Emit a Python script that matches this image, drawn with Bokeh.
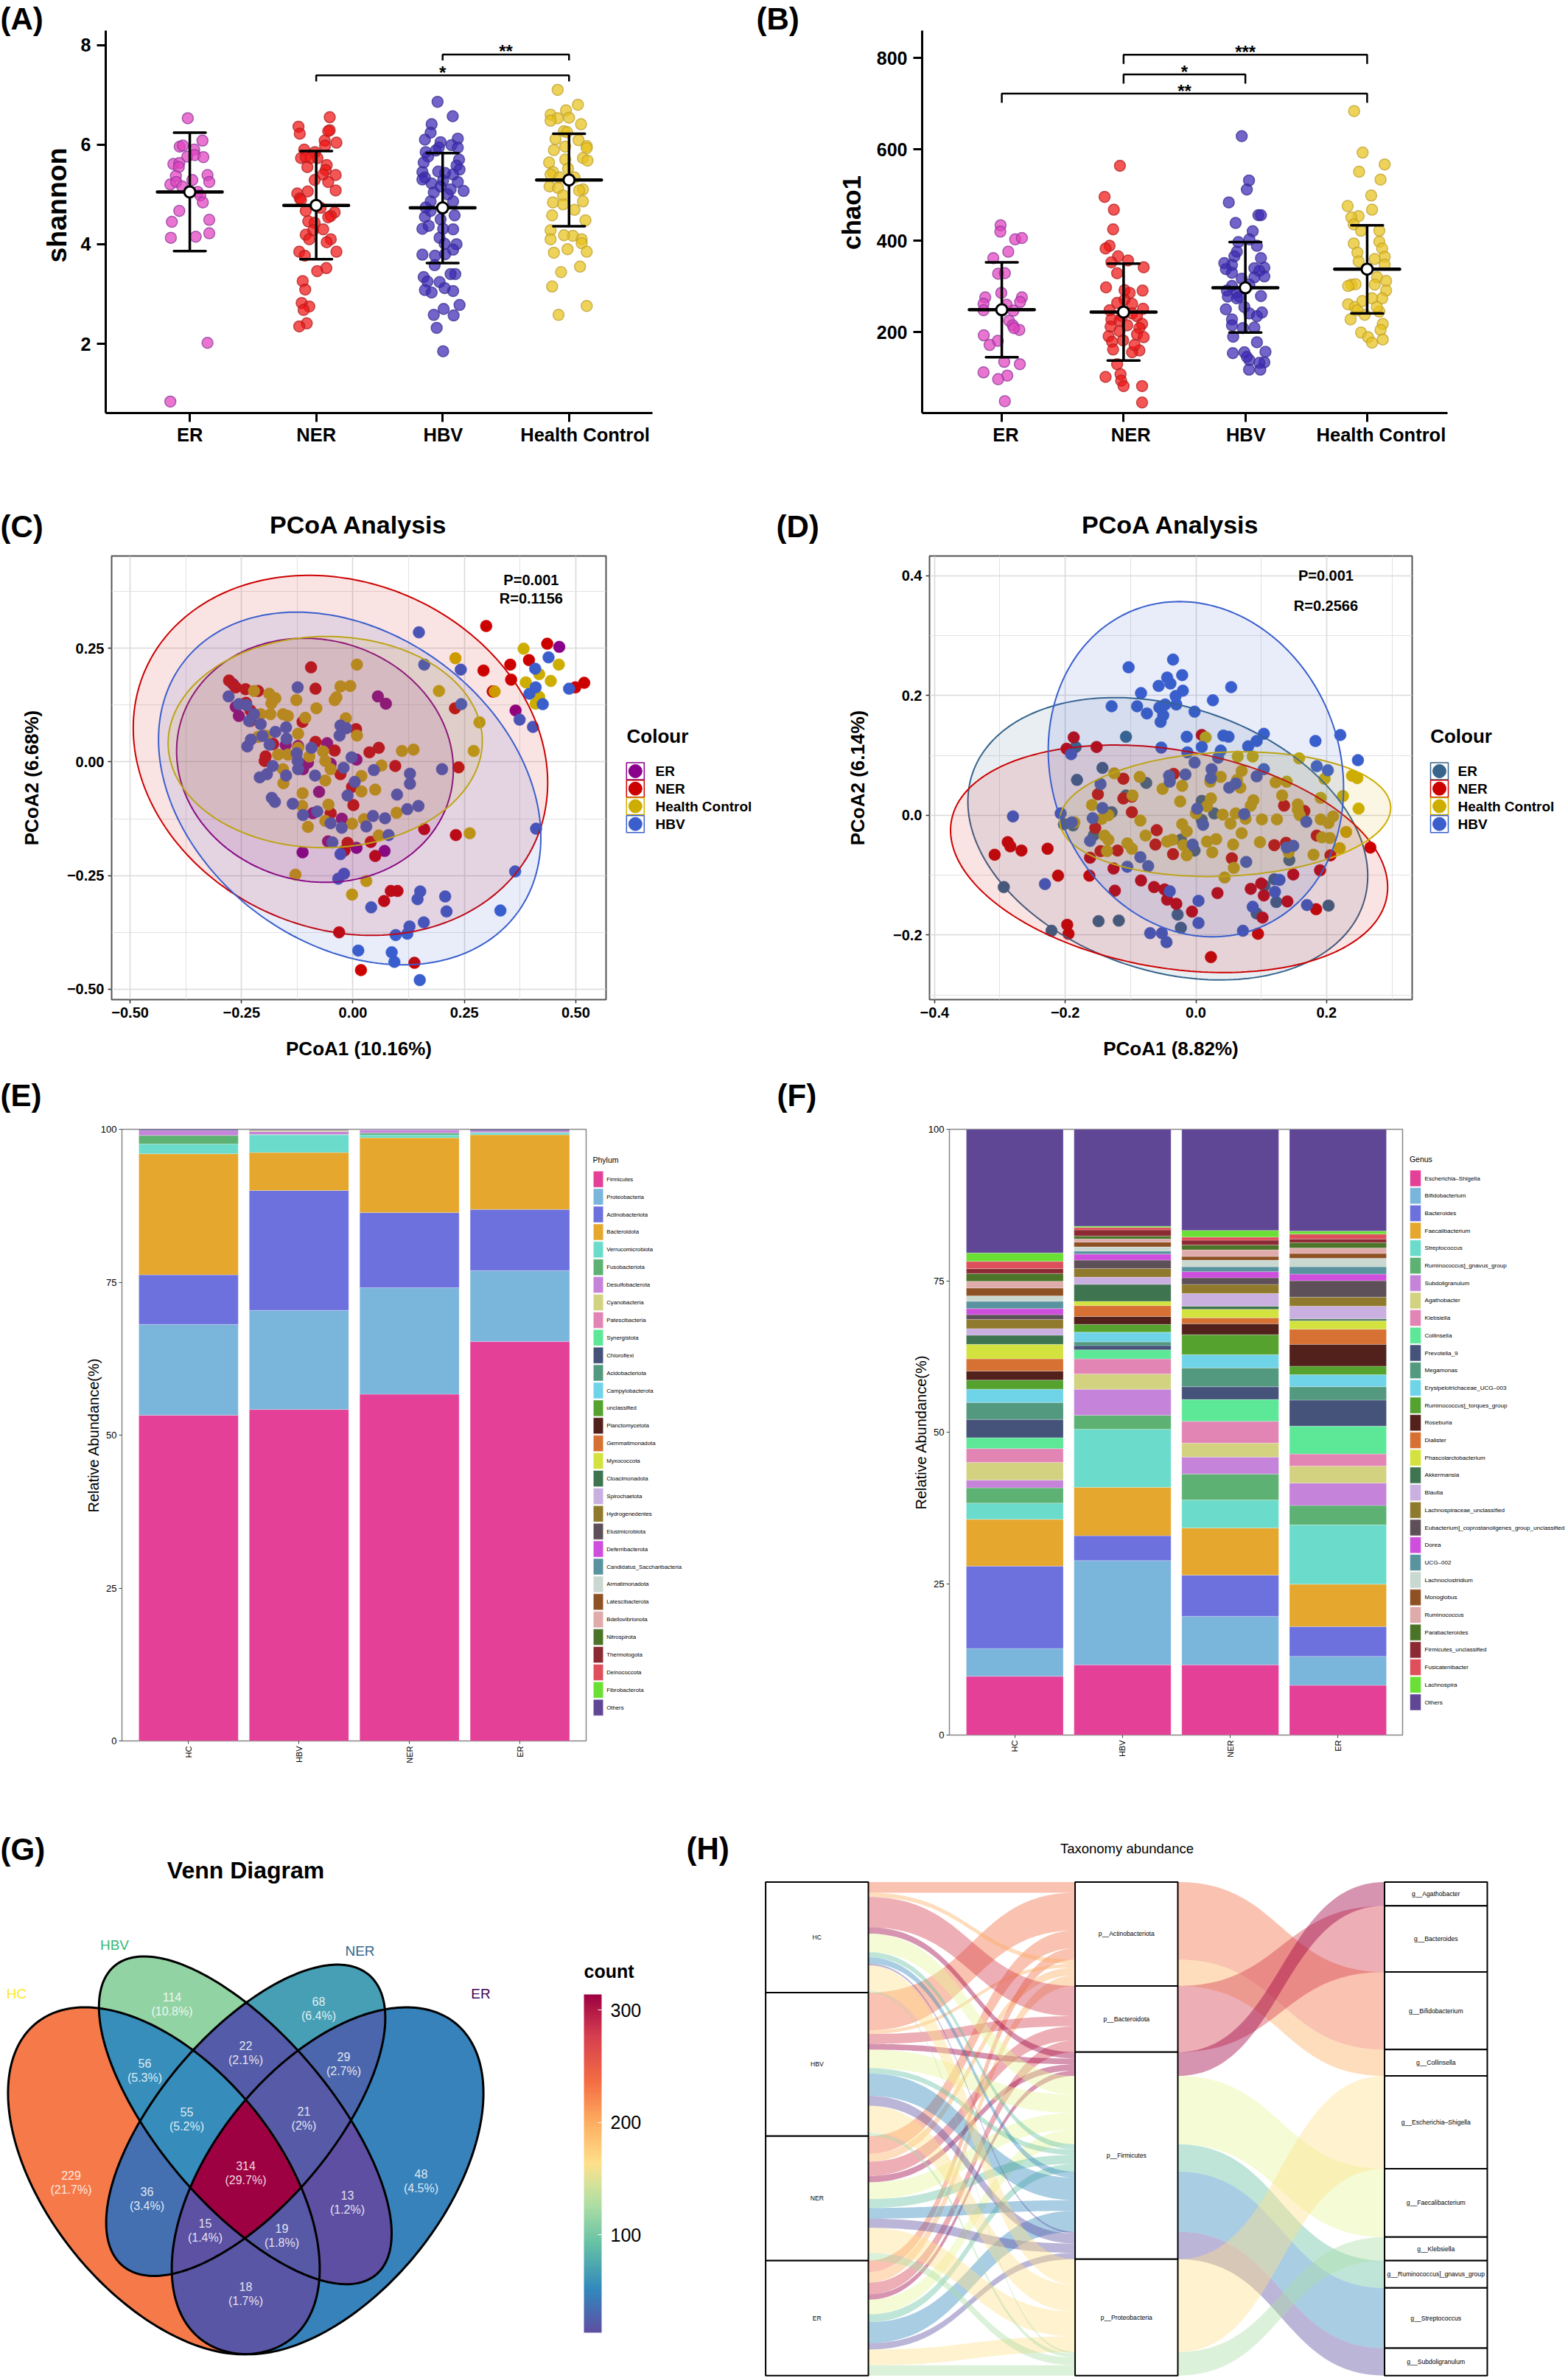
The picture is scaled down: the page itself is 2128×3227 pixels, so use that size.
import numpy as np
from bokeh.plotting import figure
from bokeh.layouts import row, column
from bokeh.models import Label, FixedTicker, LinearColorMapper, ColorBar, Range1d, LinearAxis
from bokeh.core.properties import value
from bokeh.embed import file_html
from bokeh.resources import INLINE

SANS = "Liberation Sans"

# ---------- (A) shannon : (jitter, value) ----------
groups = ["ER", "NER", "HBV", "Health Control"]
shannon_ER = [(-.016,6.53),(.1,6.08),(-.08,5.96),(-.055,5.98),(.035,5.9),(-.02,5.76),(.04,5.79),(.107,5.75),(-.13,5.61),(-.083,5.63),(-.087,5.55),(.14,5.39),(-.11,5.37),(.02,5.29),(.154,5.25),(-.154,5.2),(-.107,5.25),(-.06,5.16),(.063,5.05),(.083,4.98),(.103,4.84),(-.083,4.67),(-.142,4.45),(.154,4.49),(.154,4.22),(.047,4.15),(-.15,4.13),(.14,2.02),(-.154,.84)]
shannon_NER = [(.107,6.55),(-.14,6.36),(-.13,6.22),(.107,6.29),(.095,6.27),(.067,6.08),(.16,6.04),(.07,5.98),(-.095,5.9),(-.01,5.85),(-.12,5.73),(-.083,5.75),(.01,5.73),(-.043,5.73),(-.07,5.55),(.083,5.59),(.075,5.49),(.154,5.39),(.055,5.4),(-.012,5.29),(.095,5.25),(.154,5.08),(-.067,5.06),(-.15,5.02),(-.13,4.92),(-.12,4.89),(-.083,4.67),(.035,4.73),(.146,4.64),(.115,4.57),(.095,4.54),(-.063,4.46),(-.012,4.43),(-.024,4.28),(.055,4.3),(-.083,4.19),(-.055,4.1),(.115,4.1),(.083,4.04),(-.134,3.85),(.16,3.85),(-.09,3.77),(.08,3.52),(.008,3.46),(-.107,3.26),(-.087,3.09),(-.115,2.82),(-.055,2.75),(-.1,2.68),(-.075,2.41),(-.134,2.35)]
shannon_HBV = [(-.04,6.86),(.08,6.57),(-.087,6.41),(-.095,6.24),(-.14,6.1),(-.016,6.05),(.12,6.12),(.07,5.99),(.12,5.94),(-.03,5.94),(-.134,5.85),(-.055,5.88),(-.115,5.76),(.13,5.7),(-.15,5.64),(.11,5.58),(.134,5.5),(-.16,5.45),(-.035,5.46),(.02,5.43),(.083,5.4),(-.14,5.34),(-.16,5.3),(.004,5.28),(.12,5.25),(-.087,5.22),(-.016,5.16),(.063,5.1),(.166,5.07),(-.07,5.04),(.04,5.0),(.083,4.86),(-.095,4.86),(-.134,4.74),(.095,4.58),(-.14,4.55),(-.095,4.67),(-.016,4.5),(-.11,4.37),(-.16,4.31),(.083,4.3),(.004,4.31),(-.024,4.13),(.11,4.0),(.016,4.01),(.083,3.89),(-.16,3.79),(-.06,3.77),(.02,3.8),(-.063,3.58),(.1,3.4),(.063,3.4),(-.15,3.34),(-.12,3.25),(-.024,3.24),(.016,3.12),(-.14,3.08),(.083,3.06),(-.087,3.03),(.134,2.78),(.008,2.7),(-.07,2.58),(.087,2.57),(-.047,2.32),(.004,1.85)]
shannon_HC = [(-.09,7.1),(.07,6.8),(-.024,6.69),(-.146,6.6),(0,6.54),(-.09,6.53),(-.146,6.48),(.095,6.41),(-.04,6.27),(-.016,6.25),(.075,6.09),(-.107,6.11),(.14,5.97),(-.03,5.96),(.14,5.93),(-.12,5.89),(.11,5.73),(.146,5.68),(-.03,5.7),(-.158,5.64),(-.008,5.52),(-.127,5.45),(-.146,5.4),(-.075,5.34),(.043,5.34),(-.154,5.16),(-.087,5.13),(.11,5.1),(.08,5.08),(-.047,4.98),(.11,4.86),(-.127,4.84),(-.047,4.8),(.043,4.69),(-.134,4.58),(.13,4.48),(-.146,4.28),(.03,4.17),(-.04,4.18),(.1,4.1),(-.146,4.1),(.1,4.02),(.14,3.85),(-.12,3.83),(-.012,3.9),(.087,3.55),(-.063,3.44),(-.134,3.15),(.14,2.76),(-.083,2.58)]
shannon_summary = [(5.05,6.24,3.86),(4.78,5.87,3.7),(4.73,5.83,3.62),(5.29,6.22,4.36)]
shannon_brackets = [(3,4,7.81,.12,"**",3.5),(2,4,7.39,.12,"*",3.0)]

# ---------- (B) chao1 : (jitter, value) ----------
chao_ER = [(-.01,434),(-.012,420),(.11,403),(.165,406),(.053,376),(-.07,362),(-.03,328),(.025,329),(-.136,276),(-.004,286),(.165,276),(.15,266),(-.15,262),(.04,260),(-.15,248),(.095,247),(.06,225),(.09,215),(.144,205),(.1,209),(-.148,193),(-.033,181),(-.1,172),(.02,135),(.148,130),(-.15,112),(.045,105),(-.03,97),(.025,49)]
chao_NER = [(-.03,564),(-.156,496),(-.08,468),(-.086,425),(-.115,389),(-.148,383),(-.045,366),(.037,357),(-.1,353),(.165,342),(-.053,329),(-.144,298),(.156,291),(.008,292),(.05,286),(.008,271),(-.053,264),(.07,262),(-.115,248),(.16,251),(.07,241),(-.012,235),(.11,235),(-.1,228),(-.033,225),(.152,218),(-.107,212),(.13,209),(-.033,202),(.11,195),(-.123,191),(.165,189),(-.004,182),(-.095,179),(-.086,162),(.13,160),(.07,156),(-.053,130),(-.148,102),(-.025,108),(-.02,94),(0,82),(.152,82),(.152,46),(.09,172),(.03,215)]
chao_HBV = [(-.03,629),(.03,532),(.012,512),(-.136,484),(.107,456),(.128,456),(-.08,439),(.06,421),(.033,403),(-.058,397),(.095,389),(-.07,376),(-.09,366),(.128,362),(-.173,351),(-.11,347),(.074,340),(.156,341),(-.16,338),(.115,334),(-.11,330),(.156,322),(-.03,317),(.074,320),(-.11,301),(.033,304),(-.152,291),(-.07,287),(.128,279),(-.144,278),(-.05,278),(-.008,255),(-.16,250),(.136,243),(.033,241),(.095,235),(-.11,228),(-.11,215),(.074,210),(-.02,209),(-.1,190),(.095,178),(-.103,154),(-.008,156),(.165,157),(.033,139),(.156,134),(.115,133),(.03,118),(.123,118),(.012,146),(-.07,274)]
chao_HC = [(-.107,684),(-.037,593),(.144,567),(-.066,551),(.11,534),(.033,499),(-.16,476),(.04,468),(-.07,454),(-.13,451),(-.11,436),(-.05,422),(.1,422),(.1,398),(-.11,394),(.123,383),(-.08,374),(.144,365),(-.07,355),(.144,348),(.062,360),(.082,320),(.156,312),(.062,304),(-.13,304),(-.095,305),(.156,291),(-.156,301),(.123,274),(.04,274),(-.156,261),(-.1,255),(.1,245),(-.02,238),(-.136,228),(.128,218),(.11,205),(-.05,199),(.008,189),(.04,177),(.128,184),(-.08,248),(-.04,268),(.08,255)]
chao_summary = [(249,353,145),(244,350,138),(297,397,199),(338,434,241)]
chao_brackets = [(2,4,807,20,"***",3.0),(2,3,764,20,"*",2.5),(1,4,722,20,"**",2.5)]

# ---------- (C) PCoA ----------
C_ER = [(.463,.253),(.365,.113),(.314,.155),(.056,.144),(.074,.128),(.008,.005),(-.058,.041),(-.076,-.066),(-.09,-.113),(-.025,-.125),(-.113,-.199),(-.056,-.175),(.008,-.189),(.071,-.196),(-.269,.171),(-.263,.121),(-.256,.101),(-.151,.037),(-.179,.039),(-.123,.035),(-.101,-.002),(-.112,-.016),(-.05,-.004)]
C_NER = [(.299,.299),(.436,.26),(.395,.224),(.353,.214),(.293,.201),(.355,.181),(.519,.174),(.499,.164),(.314,.155),(.229,.118),(.237,-.012),(.16,-.148),(.231,-.161),(.095,-.009),(.058,.031),(.037,.021),(.007,.072),(-.041,.025),(-.084,.044),(-.113,.088),(-.084,.161),(-.094,.208),(-.278,.179),(-.263,.164),(-.241,.16),(-.213,.156),(-.23,.113),(-.196,.012),(-.198,.002),(-.028,-.027),(-.002,-.055),(.001,-.095),(-.05,-.113),(-.012,-.178),(.04,-.176),(.05,-.207),(-.019,-.195),(.07,-.306),(.085,-.284),(.1,-.284),(-.031,-.375),(.138,-.442),(.018,-.458),(-.24,.13),(-.18,.04),(-.23,.09)]
C_HC = [(.009,.214),(-.028,.166),(-.006,.167),(.23,.228),(.193,.156),(.318,.155),(.383,.249),(.462,.214),(.418,.193),(.388,.175),(.444,.178),(.418,.143),(.41,.128),(.284,.087),(.271,.024),(.262,-.157),(.136,.027),(.11,.024),(.009,.058),(-.016,.096),(-.082,.118),(-.107,.097),(-.127,.136),(-.037,.142),(-.041,.136),(-.174,.14),(-.222,.156),(-.188,.15),(-.183,.129),(-.185,.105),(-.157,.105),(-.146,.101),(-.123,.062),(-.168,.016),(-.146,.016),(-.123,.031),(-.098,.012),(-.067,.023),(-.062,.002),(-.05,-.016),(-.157,-.016),(-.156,-.047),(-.062,-.041),(.019,-.031),(.064,-.008),(.05,-.061),(.019,-.065),(-.113,-.069),(-.114,-.097),(-.055,-.094),(.098,-.112),(.025,-.126),(-.002,-.136),(-.062,-.13),(-.101,-.143),(.058,-.162),(-.129,-.248),(.03,-.262),(-.002,-.292),(-.207,.105),(-.196,.058),(-.213,.055)]
C_HBV = [(.148,.285),(.16,.214),(.242,.203),(.243,.127),(.439,.23),(.409,.205),(.41,.164),(.396,.15),(.426,.127),(.485,.161),(.374,.093),(.404,.077),(.411,-.147),(.364,-.241),(.331,-.327),(.207,-.296),(.21,-.329),(.151,-.285),(.145,-.302),(.159,-.353),(.127,-.362),(.122,-.378),(.096,-.381),(.012,-.415),(.087,-.419),(.093,-.44),(.15,-.48),(.041,-.32),(-.02,-.246),(-.033,-.257),(-.028,-.203),(-.046,-.177),(-.025,-.145),(-.05,-.135),(.03,-.142),(.045,-.119),(.072,-.124),(.08,-.161),(.147,-.097),(.122,-.104),(.099,-.072),(-.012,-.074),(-.08,-.109),(-.112,-.117),(-.135,-.092),(-.175,-.088),(-.182,-.079),(.2,-.016),(.128,-.026),(.128,-.048),(.047,-.018),(.004,-.044),(-.003,.01),(-.021,-.013),(-.085,-.03),(-.15,-.03),(-.123,-.016),(-.124,.002),(-.126,.019),(-.093,.031),(-.18,-.009),(-.193,-.027),(-.209,-.034),(-.237,.034),(-.229,.049),(-.203,.057),(-.187,.038),(-.174,.066),(-.149,.051),(-.15,.076),(-.207,.083),(-.233,.09),(-.222,.105),(-.239,.125),(-.256,.127),(-.279,.144),(-.124,.164),(-.03,.058),(-.028,.08),(-.015,.074)]
C_ellipses = {"ER":(-.0852,.0035,.3105,.2685,-.075),"NER":(-.028,.0144,.465,.396,-.152),"Health Control":(-.0622,.0436,.3525,.2323,.01),"HBV":(-.0073,-.0585,.429,.388,-.278)}

# ---------- (D) PCoA ----------
D_ER = [(-.107,.131),(-.184,.114),(-.143,.079),(-.182,.059),(-.076,.054),(-.107,.033),(.009,.024),(-.129,.005),(.028,.003),(-.202,-.015),(-.188,-.017),(-.156,-.033),(.009,-.008),(-.023,-.041),(-.002,-.059),(.143,-.075),(.12,-.107),(.105,-.118),(.123,-.145),(.093,-.164),(.203,-.151),(-.028,-.166),(-.023,-.188),(-.149,-.177),(-.118,-.176),(-.221,-.193),(-.294,-.12)]
D_NER = [(-.187,.13),(-.198,.111),(-.152,.114),(.009,.134),(-.111,.061),(-.15,.035),(-.098,.031),(-.111,.028),(-.034,.069),(.135,.016),(-.098,.005),(.166,.007),(-.06,-.025),(-.154,-.021),(-.062,-.049),(.185,-.034),(.138,-.046),(.12,-.05),(.267,-.054),(.206,-.067),(-.308,-.066),(-.288,-.045),(-.284,-.052),(-.267,-.059),(-.227,-.056),(-.146,-.06),(-.12,-.059),(-.035,-.065),(-.162,-.071),(.055,-.072),(-.126,-.089),(-.211,-.101),(-.163,-.101),(-.084,-.109),(.149,-.099),(.19,-.092),(-.064,-.12),(-.048,-.124),(-.124,-.126),(.084,-.123),(.1,-.114),(.033,-.13),(.104,-.134),(.14,-.144),(-.044,-.141),(-.03,-.148),(-.006,-.161),(.184,-.157),(.102,-.171),(-.197,-.183),(-.195,-.198),(.095,-.198),(.023,-.237)]
D_HC = [(.015,.13),(.064,.098),(.087,.098),(.158,.095),(-.125,.07),(-.086,.064),(-.051,.044),(-.021,.049),(.022,.056),(.038,.064),(.07,.074),(.063,.059),(.068,.046),(.122,.055),(.139,.056),(.197,.061),(.239,.066),(.247,.062),(.225,.032),(.191,.029),(.132,.033),(.249,.011),(-.097,.033),(-.024,.023),(.023,.028),(.017,.015),(.088,.025),(.084,.016),(.156,.018),(.156,.009),(-.159,.017),(-.134,0),(-.144,-.006),(-.085,-.009),(-.021,-.015),(-.014,-.027),(0,.003),(.041,.001),(.061,.003),(.053,-.014),(.076,-.006),(.101,-.007),(.124,-.007),(.159,0),(.191,-.007),(.21,-.002),(.203,-.013),(-.186,-.012),(-.14,-.034),(-.134,-.041),(-.077,-.034),(-.044,-.044),(-.036,-.041),(.031,-.04),(.017,-.044),(.07,-.03),(.098,-.045),(.193,-.037),(.205,-.038),(.23,-.028),(-.105,-.047),(-.098,-.056),(-.136,-.06),(-.019,-.05),(-.014,-.067),(.025,-.062),(.057,-.049),(.18,-.066),(.22,-.055),(.142,-.062),(.058,-.088),(.044,-.104)]
D_HBV = [(-.035,.26),(-.103,.247),(-.021,.234),(-.044,.23),(-.057,.216),(-.039,.22),(.054,.214),(-.084,.204),(-.02,.208),(-.031,.199),(.026,.192),(-.129,.182),(-.09,.182),(-.056,.18),(-.047,.185),(-.03,.185),(-.075,.17),(-.002,.173),(-.05,.167),(-.054,.156),(-.014,.131),(.042,.133),(.05,.131),(.104,.136),(.093,.124),(.08,.115),(.183,.124),(.221,.134),(.248,.092),(-.053,.113),(.009,.114),(-.013,.105),(.038,.108),(.034,.096),(-.002,.088),(.024,.077),(.104,.077),(.185,.082),(.202,.075),(-.041,.066),(-.016,.068),(-.04,.056),(.023,.062),(.093,.065),(.061,.053),(.051,.046),(-.146,.052),(-.191,.102),(-.207,.003),(-.28,-.002),(-.143,.012),(-.158,-.005),(.002,.011),(.074,.002),(.169,-.011),(.011,-.016),(-.19,-.012),(-.162,-.043),(-.005,-.049),(.149,-.051),(.139,-.054),(-.085,-.07),(-.073,-.085),(-.105,-.086),(.077,-.078),(-.231,-.115),(.128,-.108),(-.04,-.127),(.004,-.143),(.121,-.128),(.087,-.153),(.17,-.15),(.004,-.18),(.072,-.193),(-.07,-.197),(-.052,-.197),(-.045,-.212)]
D_ellipses = {"ER":(-.043,-.0393,.306,.2358,-.263),"NER":(-.041,-.0728,.3345,.19,-.25),"Health Control":(.0448,.0018,.2533,.1041,.1),"HBV":(0,.0769,.226,.28,-.112)}

# ---------- (E) phylum ----------
bar_groups = ["HC", "HBV", "NER", "ER"]
phyla = ["Firmicutes","Proteobacteria","Actinobacteriota","Bacteroidota","Verrucomicrobiota","Fusobacteriota","Desulfobacterota","Cyanobacteria","Patescibacteria","Synergistota","Chloroflexi","Acidobacteriota","Campylobacterota","unclassified","Planctomycetota","Gemmatimonadota","Myxococcota","Cloacimonadota","Spirochaetota","Hydrogenedentes","Elusimicrobiota","Deferribacterota","Candidatus_Saccharibacteria","Armatimonadota","Latescibacterota","Bdellovibrionota","Nitrospirota","Thermotogota","Deinococcota","Fibrobacterota","Others"]
phylum_HC = [53.25,14.85,8.1,19.8,1.6,1.4,.8]
phylum_HBV = [54.2,16.2,19.6,6.2,2.9,.05,.5,.2]
phylum_NER = [56.7,17.4,12.3,12.2,.5,.3,.5]
phylum_ER = [65.3,11.6,10,12.2,.35,.05,.25]
phylum_others = [.2,.15,.1,.25]

# ---------- (F) genus ----------
genera = ["Escherichia\u2013Shigella","Bifidobacterium","Bacteroides","Faecalibacterium","Streptococcus","Ruminococcus]_gnavus_group","Subdoligranulum","Agathobacter","Klebsiella","Collinsella","Prevotella_9","Megamonas","Erysipelotrichaceae_UCG\u2013003","Ruminococcus]_torques_group","Roseburia","Dialister","Phascolarctobacterium","Akkermansia","Blautia","Lachnospiraceae_unclassified","Eubacterium]_coprostanoligenes_group_unclassified","Dorea","UCG\u2013002","Lachnoclostridium","Monoglobus","Ruminococcus","Parabacteroides","Firmicutes_unclassified","Fusicatenibacter","Lachnospira","Others"]
genus_HC = [9.7,4.6,13.6,7.7,2.7,2.5,1.3,2.9,2.3,1.8,3.0,2.8,2.2,1.5,1.5,2.0,2.4,1.5,1.1,1.5,.8,1.0,1.2,.9,1.3,1.1,1.3,.8,1.2,1.4,20.4]
genus_HBV = [11.6,17.2,4.1,8.0,9.6,2.3,4.3,2.5,2.5,1.5,.7,.6,1.6,1.3,1.3,1.8,.7,2.8,1.2,1.4,1.4,1.0,.5,.7,.8,.5,.5,1.0,.4,.2,16.0]
genus_NER = [11.6,8,6.8,7.8,4.6,4.3,2.8,2.3,3.6,3.6,2.1,3.1,2.2,3.3,1.8,1.0,1.4,.5,2.1,1.5,1.1,1.0,.8,1.1,.6,1.1,.8,.8,.5,1.1,16.7]
genus_ER = [8.2,4.8,4.9,7,9.8,3.2,3.7,2.8,2,4.6,4.3,2.2,2,1.4,3.6,2.5,1.4,.3,2.1,1.5,2.7,1.1,1.2,1.4,.8,.9,.9,.6,.8,.5,16.8]
taxa_colors = ["#E54097","#7AB5DB","#6C71DE","#E5A72D","#6BDCCB","#5CB173","#C583D9","#D3D281","#E285B5","#5DE897","#45527A","#52997F","#70D4E8","#55A22F","#52211B","#D67033","#D3E23E","#3F7450","#C9B0E0","#8F792C","#5E5058","#CE4FDD","#59939F","#C9D8D0","#8E5124","#DFABAB","#4C7429","#8C2A33","#DF4E5B","#6AE034","#5F4796"]

# ---------- (G) venn ----------
venn_sets = ["HC","HBV","NER","ER","HC+HBV","HBV+NER","NER+ER","HC+NER","HBV+ER","HC+ER","HC+HBV+NER","HBV+NER+ER","HC+NER+ER","HC+HBV+ER","HC+HBV+NER+ER"]
venn_counts = [229,114,68,48,56,22,29,36,13,18,55,21,15,19,314]
venn_pcts = ["21.7%","10.8%","6.4%","4.5%","5.3%","2.1%","2.7%","3.4%","1.2%","1.7%","5.2%","2%","1.4%","1.8%","29.7%"]
venn_label_x = [96,233,432,571,196,333,466,199,471,333,253,412,278,382,333]
venn_label_y = [491,249,255,489,339,315,330,513,518,642,405,404,556,563,478]
venn_ellipses = {"HC":(221.9,-488.9,211.5,235.4,-.506),"ER":(444.1,-488.9,211.5,235.4,.506),"HBV":(332.4,-406.8,198.6,222.4,-.691),"NER":(333,-406.8,189.4,211.2,.657)}
colorbar_fracs = [0,.127,.264,.373,.44,.5,.62,.743,.88,1]
colorbar_stops = ["#5E4FA2","#3288BD","#66C2A5","#ABDDA4","#D6E29A","#FEE08B","#FDAE61","#F46D43","#D53E4F","#9E0142"]

# ---------- (H) alluvial ----------
flow_groups = ["HC","HBV","NER","ER"]
flow_phyla = ["p__Actinobacteriota","p__Bacteroidota","p__Firmicutes","p__Proteobacteria"]
flow_genera = ["g__Agathobacter","g__Bacteroides","g__Bifidobacterium","g__Collinsella","g__Escherichia\u2013Shigella","g__Faecalibacterium","g__Klebsiella","g__Ruminococcus]_gnavus_group","g__Streptococcus","g__Subdoligranulum"]
genus_phylum = [2,1,0,0,3,2,3,2,2,2]
flow_values = {"g__Agathobacter":[18,16,18,15],"g__Bacteroides":[85,28,40,33],"g__Bifidobacterium":[30,106,50,32],"g__Collinsella":[12,10,22,30],"g__Escherichia\u2013Shigella":[72,75,70,44],"g__Faecalibacterium":[52,52,47,41],"g__Klebsiella":[5,10,22,29],"g__Ruminococcus]_gnavus_group":[15,15,25,22],"g__Streptococcus":[17,63,30,59],"g__Subdoligranulum":[5,28,26,18]}
flow_colors = ["#9E0142","#D53E4F","#F46D43","#FDAE61","#FEE08B","#E6F598","#ABDDA4","#66C2A5","#3288BD","#5E4FA2"]

STRIP = {"ER":("#E040BE","#8B3A9B"),"NER":("#F01414","#B02020"),"HBV":("#3C28B4","#3A3090"),"Health Control":("#E8C21A","#BFA030")}
PC = {"ER":"#8B008B","NER":"#CD0000","Health Control":"#CDAD00","HBV":"#3A5FCD"}
PD = {"ER":"#36648B","NER":"#CD0000","Health Control":"#CDAD00","HBV":"#3A5FCD"}

def ellipse_xy(cx, cy, rx, ry, tilt):
    t = np.linspace(0, 2*np.pi, 240)
    d = np.arcsin(tilt)
    return cx + rx*np.cos(t), cy + ry*np.sin(t + d)

def ctext(p, x, y, text, size, bold=False, color="black", align="left", place="above", angle=0):
    p.add_layout(Label(x=x, y=y, x_units="canvas", y_units="canvas", text=text, text_font=SANS,
                       text_font_size=f"{size}px", text_font_style="bold" if bold else "normal",
                       text_color=color, text_align=align, text_baseline="middle", angle=angle), place)

def panel(w, h, l, r, t, b, xr, yr):
    return figure(width=w, height=h, min_border_left=l, min_border_right=r, min_border_top=t,
                  min_border_bottom=b, x_range=Range1d(*xr), y_range=Range1d(*yr),
                  output_backend="svg", toolbar_location=None, background_fill_color="white",
                  border_fill_color="white", frame_align=False)

def sidebar(w, h):
    p = figure(width=w, height=h, x_range=Range1d(0, w), y_range=Range1d(h, 0), min_border=0,
               x_axis_location=None, y_axis_location=None, output_backend="svg",
               toolbar_location=None, outline_line_color=None, frame_align=False)
    p.grid.visible = False
    return p

def strip_panel(w, l, r, t, b, xr, yr, yticks, ylabel, series, summary, brackets, cap, label_x, letter, letter_x, lab_size, lab_x, lab_y):
    p = panel(w, 640, l, r, t, b, xr, yr)
    p.grid.visible = False
    p.outline_line_color = None
    for ax in (p.xaxis[0], p.yaxis[0]):
        ax.axis_line_width = 3
        ax.axis_line_color = "black"
        ax.major_tick_line_width = 3
        ax.major_tick_line_color = "black"
        ax.major_tick_out = 12
        ax.major_tick_in = 0
        ax.minor_tick_line_color = None
    p.xaxis.ticker = FixedTicker(ticks=[1, 2, 3, 4])
    p.xaxis.major_label_overrides = {1: "", 2: "", 3: "", 4: ""}
    lab_ax = LinearAxis(ticker=FixedTicker(ticks=label_x), major_label_overrides=dict(zip(label_x, groups)),
                        axis_line_color=None, major_tick_line_color=None, minor_tick_line_color=None,
                        major_label_text_font=SANS, major_label_text_font_style="bold",
                        major_label_text_font_size="25.5px", major_label_text_color="black",
                        major_tick_out=0, major_tick_in=0, major_label_standoff=3)
    p.add_layout(lab_ax, "below")
    p.yaxis.ticker = FixedTicker(ticks=yticks)
    p.yaxis.major_label_text_font = SANS
    p.yaxis.major_label_text_font_style = "bold"
    p.yaxis.major_label_text_font_size = "25px"
    p.yaxis.major_label_text_color = "black"
    p.yaxis.major_label_standoff = 8
    ctext(p, lab_x, lab_y, ylabel, lab_size, bold=True, align="center", place="left", angle=np.pi/2)
    for i, (g, pts) in enumerate(zip(groups, series)):
        a = np.array(pts)
        p.scatter(i + 1 + a[:, 0], a[:, 1], size=15, fill_color=STRIP[g][0], fill_alpha=.72,
                  line_color=STRIP[g][1], line_alpha=.75, line_width=1.5)
    for i, (m, u, d) in enumerate(summary):
        x = i + 1
        p.segment([x], [d], [x], [u], line_color="black", line_width=3.5)
        p.segment([x - cap, x - cap], [u, d], [x + cap, x + cap], [u, d], line_color="black", line_width=3.5, line_cap="round")
        p.segment([x - 2.05*cap], [m], [x + 2.05*cap], [m], line_color="black", line_width=4.5, line_cap="round")
        p.scatter([x], [m], size=15, fill_color="white", line_color="black", line_width=3)
    for x0, x1, y, drop, star, sx in brackets:
        p.line([x0, x0, x1, x1], [y - drop, y, y, y - drop], line_color="black", line_width=2.5)
        p.text([sx], [y], text=[star], text_font=value(SANS), text_font_style="bold", text_font_size="24px",
               text_align="center", text_baseline="middle", y_offset=-4, text_color="black")
    ctext(p, letter_x, 25, letter, 42, bold=True, place="right")
    return p

pA = strip_panel(1020, 143, 135, 41, 80, (.335, 4.66), (.61, 8.29), [2, 4, 6, 8], "shannon",
                 [shannon_ER, shannon_NER, shannon_HBV, shannon_HC], shannon_summary, shannon_brackets,
                 .125, [1, 2, 3.004, 4.127], "(A)", 0, 37.5, 76, 278)
pB = strip_panel(1108, 231, 164, 41, 80, (.346, 4.66), (23, 860), [200, 400, 600, 800], "chao1",
                 [chao_ER, chao_NER, chao_HBV, chao_HC], chao_summary, chao_brackets,
                 .13, [1.033, 2.06, 3.004, 4.115], "(B)", 6, 35, 135, 288)

def pcoa_panel(w, l, r, xr, yr, xt, xm, xl, yt, ym, yl, xlabel, ylabel, series, colors, ells, pr, letter, letter_x, title_x, ystandoff):
    p = panel(w, 800, l, r, 114, 78, xr, yr)
    p.outline_line_color = "#555555"
    p.outline_line_width = 2
    for ax, tk, mn, lb in ((p.xaxis[0], xt, xm, xl), (p.yaxis[0], yt, ym, yl)):
        ax.ticker = FixedTicker(ticks=tk, minor_ticks=mn)
        ax.major_label_overrides = dict(zip(tk, lb))
        ax.major_label_text_font = SANS
        ax.major_label_text_font_style = "bold"
        ax.major_label_text_font_size = "20px"
        ax.major_label_text_color = "black"
        ax.major_label_standoff = 5
        ax.major_tick_out = 5
        ax.major_tick_in = 0
        ax.major_tick_line_color = "#333333"
        ax.major_tick_line_width = 1.5
        ax.minor_tick_line_color = None
        ax.axis_line_color = None
        ax.axis_label_text_font = SANS
        ax.axis_label_text_font_style = "bold"
        ax.axis_label_text_font_size = "26px"
        ax.axis_label_text_color = "black"
    p.xaxis.axis_label = xlabel
    p.yaxis.axis_label = ylabel
    p.xaxis.axis_label_standoff = 24
    p.yaxis.axis_label_standoff = ystandoff
    p.grid.grid_line_color = "#DADADA"
    p.grid.grid_line_width = 1.6
    p.grid.minor_grid_line_color = "#E2E2E2"
    p.grid.minor_grid_line_width = 1
    for g in ["ER", "NER", "Health Control", "HBV"]:
        a = np.array(series[g])
        p.scatter(a[:, 0], a[:, 1], size=16, fill_color=colors[g], line_color=colors[g], line_width=.5)
    for g in ["ER", "NER", "Health Control", "HBV"]:
        x, y = ellipse_xy(*ells[g])
        p.patch(x, y, fill_color=colors[g], fill_alpha=.11, line_color=colors[g], line_width=2)
    for (x, y, t) in pr:
        p.text([x], [y], text=[t], text_font=value(SANS), text_font_style="bold", text_font_size="20px",
               text_align="center", text_baseline="middle", text_color="black")
    ctext(p, letter_x, 74, letter, 42, bold=True)
    ctext(p, title_x, 71, "PCoA Analysis", 34, bold=True, align="center")
    return p

def colour_legend(w, title_x, key_x, text_x, colors):
    p = sidebar(w, 800)
    p.text([title_x], [358], text=["Colour"], text_font=value(SANS), text_font_style="bold", text_font_size="26px",
           text_baseline="middle", text_color="black")
    ys = [406, 429.7, 453.5, 477.7]
    for y, g in zip(ys, ["ER", "NER", "Health Control", "HBV"]):
        p.rect([key_x], [y], width=24, height=23, fill_color="white", line_color=colors[g], line_width=1.5)
        p.scatter([key_x], [y], size=18, fill_color=colors[g], line_color=colors[g])
        p.text([text_x], [y], text=[g], text_font=value(SANS), text_font_style="bold", text_font_size="19px",
               text_baseline="middle", text_color="black")
    return p

pC = pcoa_panel(835, 151, 13, (-.5415, .568), (-.523, .453),
                [-.5, -.25, 0, .25, .5], [-.375, -.125, .125, .375], ["\u22120.50", "\u22120.25", "0.00", "0.25", "0.50"],
                [-.5, -.25, 0, .25], [-.375, -.125, .125, .375], ["\u22120.50", "\u22120.25", "0.00", "0.25"],
                "PCoA1 (10.16%)", "PCoA2 (6.68%)", {"ER": C_ER, "NER": C_NER, "Health Control": C_HC, "HBV": C_HBV},
                PC, C_ellipses, [(.40, .40, "P=0.001"), (.40, .359, "R=0.1156")], "(C)", 0, 486.5, 30)
pCl = colour_legend(215, 15, 26.8, 54, PC)
pD = pcoa_panel(880, 211, 14, (-.4077, .331), (-.308, .433),
                [-.4, -.2, 0, .2], [-.3, -.1, .1, .3], ["\u22120.4", "\u22120.2", "0.0", "0.2"],
                [-.2, 0, .2, .4], [-.3, -.1, .1, .3], ["\u22120.2", "0.0", "0.2", "0.4"],
                "PCoA1 (8.82%)", "PCoA2 (6.14%)", {"ER": D_ER, "NER": D_NER, "Health Control": D_HC, "HBV": D_HBV},
                PD, D_ellipses, [(.199, .4, "P=0.001"), (.199, .35, "R=0.2566")], "(D)", 3, 538.5, 30)
pDl = colour_legend(198, 10.7, 23, 48, PD)

def stack_panel(w, l, r, t, b, xr, matrix, letter):
    p = panel(w, 1000, l, r, t, b, xr, (0, 100))
    p.grid.visible = False
    p.outline_line_color = "#888888"
    p.outline_line_width = 1.5
    xs = np.arange(1, 5)
    cum = np.zeros(4)
    for col, vals in zip(taxa_colors, matrix.T):
        if vals.sum() > 0:
            p.vbar(x=xs, bottom=cum, top=cum + vals, width=.9, fill_color=col, line_color="white", line_width=.5, line_alpha=.5)
        cum = cum + vals
    p.xaxis.ticker = FixedTicker(ticks=[1, 2, 3, 4])
    p.xaxis.major_label_overrides = dict(zip([1, 2, 3, 4], bar_groups))
    p.xaxis.major_label_orientation = np.pi/2
    p.xaxis.major_label_text_font = SANS
    p.xaxis.major_label_text_font_size = "11px"
    p.xaxis.major_label_text_color = "black"
    p.xaxis.major_label_standoff = 3
    p.yaxis.ticker = FixedTicker(ticks=[0, 25, 50, 75, 100])
    p.yaxis.major_label_text_font = SANS
    p.yaxis.major_label_text_font_size = "13px"
    p.yaxis.major_label_text_color = "black"
    p.yaxis.major_label_standoff = 3
    for ax in (p.xaxis[0], p.yaxis[0]):
        ax.major_tick_out = 4
        ax.major_tick_in = 0
        ax.major_tick_line_color = "#444444"
        ax.minor_tick_line_color = None
        ax.axis_line_color = None
    p.yaxis.axis_label = "Relative Abundance(%)"
    p.yaxis.axis_label_text_font = SANS
    p.yaxis.axis_label_text_font_style = "normal"
    p.yaxis.axis_label_text_font_size = "20px"
    p.yaxis.axis_label_text_color = "black"
    p.yaxis.axis_label_standoff = -4
    if letter:
        ctext(p, letter[1], 46, letter[0], 42, bold=True)
    return p

def pad(v, oth):
    return v + [0]*(30 - len(v)) + [oth]
phy = np.array([pad(v, o) for v, o in zip([phylum_HC, phylum_HBV, phylum_NER, phylum_ER], phylum_others)])
gen = np.array([genus_HC, genus_HBV, genus_NER, genus_ER])
pE = stack_panel(800, 165, 5, 92, 78, (.397, 4.6), phy, ("(E)", 0))
pF = stack_panel(855, 238, 2, 92, 86, (.393, 4.6), gen, ("(F)", 4))

def taxa_legend(w, title, names, title_x, key_x, key_w, text_x, y0, step, font_size, ty):
    p = sidebar(w, 1000)
    p.text([title_x], [ty], text=[title], text_font=value(SANS), text_font_size="10.5px", text_baseline="middle", text_color="black")
    ys = y0 + step*np.arange(len(names))
    p.rect(key_x, ys, width=key_w, height=22, fill_color=taxa_colors, line_color="white", line_width=.5)
    p.text(text_x, ys, text=names, text_font=value(SANS), text_font_size=f"{font_size}px", text_baseline="middle", text_color="black")
    return p

pEl = taxa_legend(250, "Phylum", phyla, 4, 11.5, 13.5, 22.7, 159.7, 23.9, 7.8, 133)
pFl = taxa_legend(223, "Genus", genera, 7.4, 15.5, 15, 28, 158.5, 23.7, 8.1, 132)

# ---------- G ----------
def venn_mask(xx, yy, cx, cy, rx, ry, tilt):
    u = (xx - cx)/rx
    v = (yy - cy)/ry
    return u**2 + ((v - u*tilt)/np.sqrt(1 - tilt**2))**2 <= 1

pG = figure(width=900, height=787, x_range=Range1d(0, 900), y_range=Range1d(-757, 30), min_border=0, frame_align=False,
            x_axis_location=None, y_axis_location=None, output_backend="svg", toolbar_location=None, outline_line_color=None)
pG.grid.visible = False
fr = np.array(colorbar_fracs)
rgb = np.array([[int(c[i:i+2], 16) for i in (1, 3, 5)] for c in colorbar_stops], float)
tt = np.linspace(0, 1, 256)
palette = ["#%02x%02x%02x" % tuple(int(round(np.interp(t, fr, rgb[:, k]))) for k in range(3)) for t in tt]
mapper = LinearColorMapper(palette=palette, low=13, high=314, nan_color="rgba(0,0,0,0)")
xg = np.arange(0, 900, .5) + .25
yg = np.arange(-757, 0, .5) + .25
xx, yy = np.meshgrid(xg, yg)
masks = {k: venn_mask(xx, yy, *v) for k, v in venn_ellipses.items()}
img = np.full(xx.shape, np.nan)
names = ["HC", "HBV", "NER", "ER"]
for s, c in zip(venn_sets, venn_counts):
    want = s.split("+")
    m = np.ones(xx.shape, bool)
    for n in names:
        m &= masks[n] if n in want else ~masks[n]
    img[m] = c
pG.image(image=[img], x=0, y=-757, dw=900, dh=757, color_mapper=mapper)
for k in ["HC", "HBV", "NER", "ER"]:
    x, y = ellipse_xy(*venn_ellipses[k])
    pG.line(x, y, line_color="black", line_width=3)
lx = np.array(venn_label_x)
ly = -np.array(venn_label_y, float)
pG.text(lx, ly + 9.5, text=[str(c) for c in venn_counts], text_font=value(SANS), text_font_size="16px",
        text_align="center", text_baseline="middle", text_color="white", text_alpha=.85)
pG.text(lx, ly - 9.5, text=[f"({q})" for q in venn_pcts], text_font=value(SANS), text_font_size="16px",
        text_align="center", text_baseline="middle", text_color="white", text_alpha=.85)
for t, x, y, c in zip(["HC", "HBV", "NER", "ER"], [22, 155, 488, 652], [-235, -169, -177, -235], ["#FDE725", "#35B779", "#31688E", "#440154"]):
    pG.text([x], [y], text=[t], text_font=value(SANS), text_font_size="19px", text_align="center", text_baseline="middle", text_color=c)
pG.text([333], [-67.6], text=["Venn Diagram"], text_font=value(SANS), text_font_style="bold", text_font_size="32px", text_align="center", text_baseline="middle", text_color="black")
pG.text([0], [-38.6], text=["(G)"], text_font=value(SANS), text_font_style="bold", text_font_size="42px", text_baseline="middle", text_color="black")
pG.text([792], [-204], text=["count"], text_font=value(SANS), text_font_style="bold", text_font_size="25px", text_baseline="middle", text_color="black")
cb = ColorBar(color_mapper=mapper, ticker=FixedTicker(ticks=[100, 200, 300]), location=(792, 62), width=24, height=459,
              padding=0, background_fill_alpha=0, major_tick_line_color="white", major_tick_in=5,
              major_label_text_font=SANS, major_label_text_font_size="25px", major_label_text_color="black",
              label_standoff=12, bar_line_color=None, minor_tick_line_color=None, major_tick_out=0)
pG.add_layout(cb, "center")

# ---------- H ----------
box_hw = .166
pH = figure(width=1228, height=787, x_range=Range1d(.504, 3.428), y_range=Range1d(1395, -235), min_border=0, frame_align=False,
            x_axis_location=None, y_axis_location=None, output_backend="svg", toolbar_location=None, outline_line_color=None)
pH.grid.visible = False
F = np.array([flow_values[g] for g in flow_genera], float)   # genus x group

def ribbon(x0, x1, top0, bot0, top1, bot1, color):
    t = np.linspace(0, 1, 60)
    xm = (x0 + x1)/2
    bx = (1-t)**3*x0 + 3*(1-t)**2*t*xm + 3*(1-t)*t**2*xm + t**3*x1
    s = 3*(1-t)*t**2 + t**3
    yt = top0 + (top1 - top0)*s
    yb = bot0 + (bot1 - bot0)*s
    pH.patch(np.r_[bx, bx[::-1]], np.r_[yt, yb[::-1]], fill_color=color, fill_alpha=.42, line_color=None)

order = sorted(range(len(flow_genera)), key=lambda i: (genus_phylum[i], i))
left_pos = {}
cur = 0.0
for j in range(4):
    for i in order:
        left_pos[(i, j)] = cur
        cur += F[i, j]
mid_pos = {}
cur = 0.0
for i in order:
    for j in range(4):
        mid_pos[(i, j)] = cur
        cur += F[i, j]
mid_g = {}
cur = 0.0
for i in order:
    mid_g[i] = cur
    cur += F[i].sum()
right_g = {}
cur = 0.0
for i in range(len(flow_genera)):
    right_g[i] = cur
    cur += F[i].sum()
for i in order:
    for j in range(4):
        a, b = left_pos[(i, j)], mid_pos[(i, j)]
        ribbon(1 + box_hw, 2 - box_hw, a, a + F[i, j], b, b + F[i, j], flow_colors[i])
for i in order:
    a, b, h = mid_g[i], right_g[i], F[i].sum()
    ribbon(2 + box_hw, 3 - box_hw, a, a + h, b, b + h, flow_colors[i])

def strata(xc, names_, sizes):
    s = np.array(sizes, float)
    top = np.r_[0, np.cumsum(s)[:-1]]
    pH.quad(left=xc - box_hw, right=xc + box_hw, top=top, bottom=top + s, fill_color="white", line_color="black", line_width=2)
    pH.text(np.full(len(s), xc), top + s/2, text=names_, text_font=value(SANS), text_font_size="8.6px",
            text_align="center", text_baseline="middle", text_color="black")

strata(1, flow_groups, F.sum(axis=0))
strata(2, flow_phyla, [sum(F[i].sum() for i in range(10) if genus_phylum[i] == k) for k in range(4)])
strata(3, flow_genera, F.sum(axis=1))
pH.text([.504 + 31/420], [-235 + 68/.4827], text=["(H)"], text_font=value(SANS), text_font_style="bold", text_font_size="42px", text_baseline="middle", text_color="black")
pH.text([.504 + 629/420], [-235 + 68/.4827], text=["Taxonomy abundance"], text_font=value(SANS), text_font_size="18.5px", text_align="center", text_baseline="middle", text_color="black")

page = column(row(pA, pB, spacing=0),
              row(pC, pCl, pD, pDl, spacing=0),
              row(pE, pEl, pF, pFl, spacing=0),
              row(pG, pH, spacing=0), spacing=0)
open("out.html", "w").write(file_html(page, INLINE))
